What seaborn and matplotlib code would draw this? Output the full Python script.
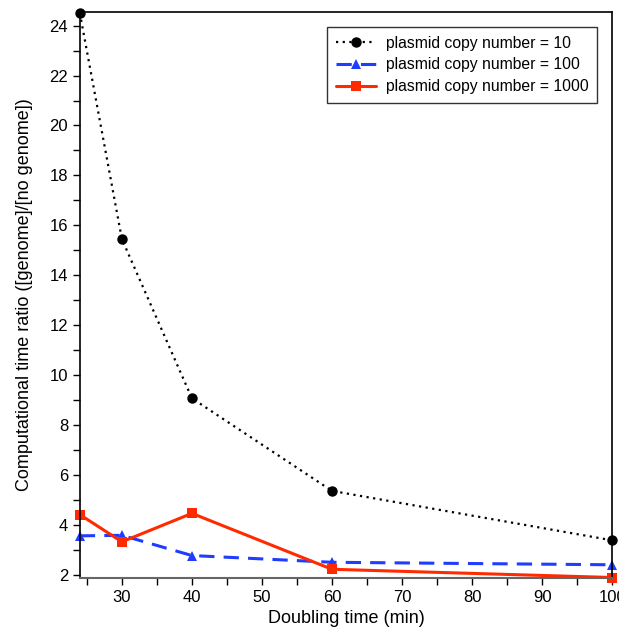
import matplotlib
matplotlib.use("Agg")
import matplotlib.pyplot as plt
from matplotlib.ticker import MultipleLocator
import pandas as pd
import seaborn as sns

sns.set_style("ticks")
plt.rcParams["font.family"] = ["Liberation Sans", "DejaVu Sans"]
plt.rcParams["text.color"] = "black"
plt.rcParams["axes.labelcolor"] = "black"
plt.rcParams["xtick.color"] = "black"
plt.rcParams["ytick.color"] = "black"

doubling_time = [24, 30, 40, 60, 100]
ratio_copy10 = [24.5, 15.45, 9.07, 5.36, 3.38]
ratio_copy100 = [3.56, 3.58, 2.77, 2.50, 2.40]
ratio_copy1000 = [4.41, 3.32, 4.46, 2.22, 1.89]
series_labels = ["plasmid copy number = 10",
                 "plasmid copy number = 100",
                 "plasmid copy number = 1000"]

frames = []
for lab, vals in zip(series_labels, [ratio_copy10, ratio_copy100, ratio_copy1000]):
    frames.append(pd.DataFrame({"Doubling time (min)": doubling_time,
                                "ratio": vals, "series": lab}))
df = pd.concat(frames, ignore_index=True)

styles = {
    series_labels[0]: dict(color="black", linestyle=(0, (1, 2.0)), marker="o", lw=1.6, ms=7.5),
    series_labels[1]: dict(color="#1f3cff", linestyle=(0, (5, 3)), marker="^", lw=2.2, ms=7.5),
    series_labels[2]: dict(color="#ff2a00", linestyle="-", marker="s", lw=2.2, ms=7.5),
}

fig, ax = plt.subplots(figsize=(6.19, 6.28), dpi=100)
fig.subplots_adjust(left=0.129, right=0.989, top=0.981, bottom=0.080)

for lab in series_labels:
    st = styles[lab]
    sns.lineplot(data=df[df["series"] == lab], x="Doubling time (min)", y="ratio",
                 ax=ax, color=st["color"], linestyle=st["linestyle"],
                 marker=st["marker"], linewidth=st["lw"], markersize=st["ms"],
                 markeredgewidth=0, label=lab, clip_on=False)

ax.set_xlim(24, 100)
ax.set_ylim(1.88, 24.55)
ax.xaxis.set_major_locator(MultipleLocator(10))
ax.xaxis.set_minor_locator(MultipleLocator(5))
ax.yaxis.set_major_locator(MultipleLocator(2))
ax.yaxis.set_minor_locator(MultipleLocator(1))
ax.tick_params(axis="both", which="major", length=5, width=1, labelsize=12, direction="out")
ax.tick_params(axis="both", which="minor", length=5, width=1, direction="out")
ax.set_xlabel("Doubling time (min)", fontsize=13, labelpad=4)
ax.set_ylabel("Computational time ratio ([genome]/[no genome])", fontsize=13, labelpad=12)

for side in ["left", "right", "top"]:
    ax.spines[side].set_visible(True)
    ax.spines[side].set_color("black")
    ax.spines[side].set_linewidth(1.2)
ax.spines["bottom"].set_color("#666666")
ax.spines["bottom"].set_linewidth(1.5)

leg = ax.legend(loc="upper right", bbox_to_anchor=(0.972, 0.973), borderaxespad=0,
                fontsize=11.3, frameon=True, fancybox=False, edgecolor="black",
                handlelength=2.6, handletextpad=0.6, borderpad=0.55, labelspacing=0.42)
leg.get_frame().set_linewidth(1.0)

fig.savefig("out.png", dpi=100)
